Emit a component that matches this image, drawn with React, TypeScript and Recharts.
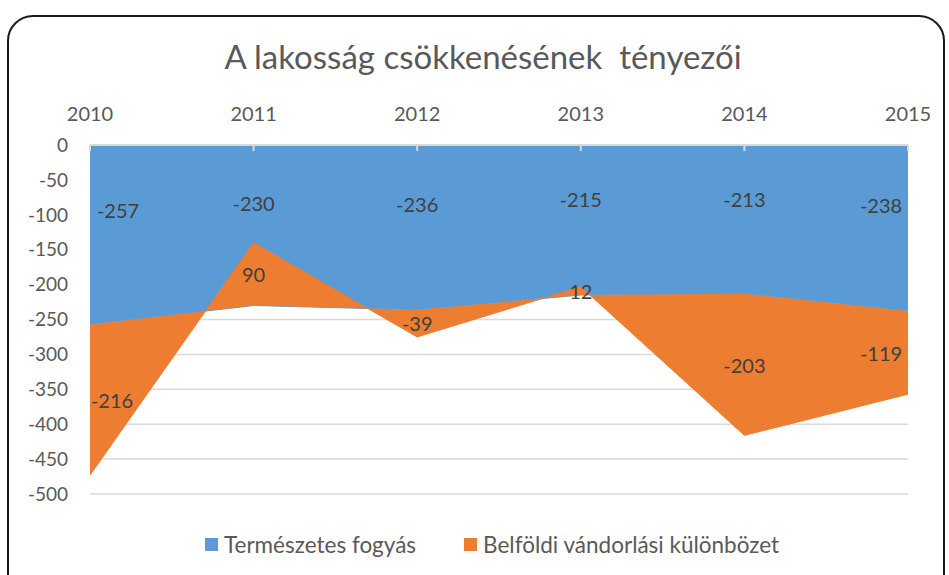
import React from 'react';
import { AreaChart, Area, XAxis, YAxis, CartesianGrid } from 'recharts';

const years = ['2010', '2011', '2012', '2013', '2014', '2015'];
const termeszetesFogyas = [-257, -230, -236, -215, -213, -238];
const belfoldiVandorlas = [-216, 90, -39, 12, -203, -119];
const yTicks = [0, -50, -100, -150, -200, -250, -300, -350, -400, -450, -500];

const data = years.map((year, i) => ({
  year,
  fogyas: termeszetesFogyas[i],
  vandorlas: belfoldiVandorlas[i],
}));

const BLUE = '#5B9BD5';
const ORANGE = '#ED7D31';
const FONT = 'Lato, "Open Sans", sans-serif';

// plot geometry (used for the data labels only)
const PLOT_TOP = 145;
const PLOT_BOTTOM = 494;
const PLOT_LEFT = 90;
const PLOT_RIGHT = 908;
const yOf = (v: number) => PLOT_TOP + (-v / 500) * (PLOT_BOTTOM - PLOT_TOP);

const shiftX = (x: number, i: number) => {
  if (i === 0) return x + 28;
  if (i === years.length - 1) return x - 27;
  return x;
};

const blueLabel = (props: any) => {
  const { x, index } = props;
  const v = termeszetesFogyas[index];
  return (
    <text key={`b${index}`} x={shiftX(x, index)} y={yOf(v * 0.36)} textAnchor="middle"
      dominantBaseline="central" fontSize={20} fill="#404040" fontFamily={FONT}>
      {v}
    </text>
  );
};

const orangeLabel = (props: any) => {
  const { x, index } = props;
  const v = belfoldiVandorlas[index];
  const mid = termeszetesFogyas[index] + v / 2;
  return (
    <text key={`o${index}`} x={shiftX(x, index) - (index === 0 ? 6 : 0)} y={yOf(mid)} textAnchor="middle"
      dominantBaseline="central" fontSize={20} fill="#404040" fontFamily={FONT}>
      {v}
    </text>
  );
};

const YearTick = (props: any) => {
  const { x, y, payload } = props;
  return (
    <g>
      <line x1={x} x2={x} y1={y} y2={y + 6} stroke="#d9d9d9" strokeWidth={2} />
      <text x={x} y={y - 32} textAnchor="middle" dominantBaseline="central"
        fontSize={20} fill="#595959" fontFamily={FONT}>
        {payload.value}
      </text>
    </g>
  );
};

export default function App() {
  return (
    <div style={{ position: 'absolute', left: 0, top: 0, width: 949, height: 575, overflow: 'hidden', background: '#fff' }}>
      <div style={{
        position: 'absolute', left: 7, top: 15, width: 934, height: 600,
        border: '2px solid #1a1a1a', borderRadius: 26,
      }} />
      <div style={{
        position: 'absolute', left: 0, width: 966, top: 36, textAlign: 'center',
        fontFamily: FONT, fontSize: 33, color: '#595959', whiteSpace: 'pre',
      }}>
        A lakosság csökkenésének  tényezői
      </div>
      <div style={{ position: 'absolute', left: 0, top: 0 }}>
        <AreaChart width={949} height={575} data={data}
          margin={{ top: PLOT_TOP - 40, right: 949 - PLOT_RIGHT, bottom: 575 - PLOT_BOTTOM, left: 0 }}>
          <CartesianGrid horizontal vertical={false} stroke="#d9d9d9" strokeWidth={1.5} />
          <XAxis dataKey="year" orientation="top" height={40} tickLine={false} tickSize={0}
            tickMargin={0} axisLine={{ stroke: '#d9d9d9', strokeWidth: 2 }} tick={<YearTick />}
            interval={0} />
          <YAxis width={PLOT_LEFT} domain={[-500, 0]} ticks={yTicks} axisLine={false} tickLine={false}
            tickSize={0} tickMargin={22} interval={0}
            tick={{ fontSize: 19, fill: '#595959', fontFamily: FONT }} />
          <Area type="linear" dataKey="fogyas" stackId="1" stroke={BLUE} strokeWidth={1}
            fill={BLUE} fillOpacity={1} isAnimationActive={false} label={blueLabel} />
          <Area type="linear" dataKey="vandorlas" stackId="1" stroke={ORANGE} strokeWidth={1}
            fill={ORANGE} fillOpacity={1} isAnimationActive={false} label={orangeLabel} />
        </AreaChart>
      </div>
      <div style={{
        position: 'absolute', left: 205, top: 531, display: 'flex', alignItems: 'center',
        fontFamily: FONT, fontSize: 22.5, color: '#595959',
      }}>
        <span style={{ width: 13, height: 13, background: BLUE, display: 'inline-block', marginRight: 6 }} />
        <span>Természetes fogyás</span>
        <span style={{ width: 13, height: 13, background: ORANGE, display: 'inline-block', marginLeft: 48, marginRight: 6 }} />
        <span>Belföldi vándorlási különbözet</span>
      </div>
    </div>
  );
}
